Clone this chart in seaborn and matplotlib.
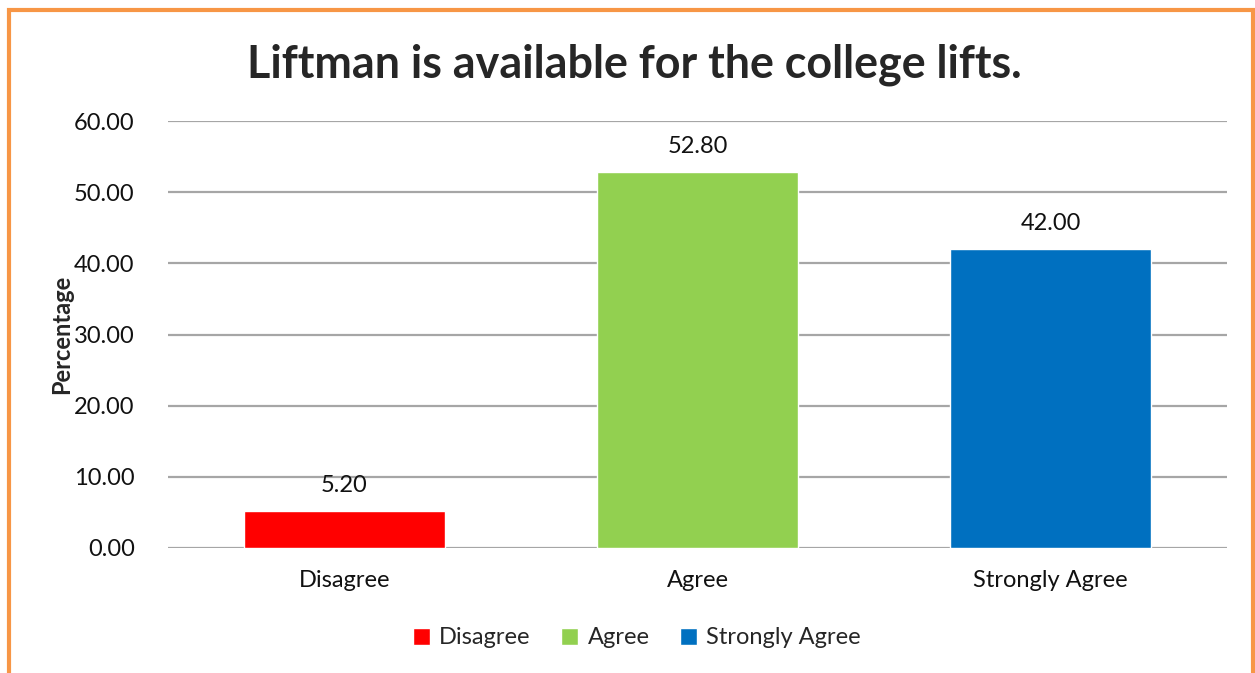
import pandas as pd
import matplotlib.pyplot as plt
import matplotlib.patches as mpatches
import seaborn as sns

# dados
categorias = ['Disagree', 'Agree', 'Strongly Agree']
percentuais = [5.20, 52.80, 42.00]
cores = ['#FF0000', '#92D050', '#0070C0']
ticks_y = [0, 10, 20, 30, 40, 50, 60]

df = pd.DataFrame({'Resposta': categorias, 'Percentual': percentuais})

sns.set_theme(style="white")
plt.rcParams['font.family'] = ['Lato', 'DejaVu Sans']

W, H = 1255, 673
fig = plt.figure(figsize=(W / 100, H / 100), dpi=100)
ax = fig.add_axes([168 / W, 1 - 548 / H, (1227 - 168) / W, (548 - 121) / H])

sns.barplot(data=df, x='Resposta', y='Percentual', hue='Resposta',
            palette=cores, width=0.572, saturation=1, ax=ax, legend=True)

fs = 17
ax.set_xlim(-0.5, 2.5)
ax.set_ylim(0, 60)
ax.set_yticks(ticks_y)
ax.set_yticklabels([f'{v:.2f}' for v in ticks_y], fontsize=fs, color='#111111')
ax.tick_params(axis='x', labelsize=fs, colors='#111111', pad=16, length=0)
ax.tick_params(axis='y', pad=24, length=0)
ax.yaxis.grid(True, color='#A6A6A6', linewidth=1.6)
ax.set_axisbelow(True)
for s in ax.spines.values():
    s.set_visible(False)

ax.set_xlabel('')
ax.set_ylabel('Percentage', fontsize=17, fontweight='bold')
ax.yaxis.set_label_coords((73 - 168) / (1227 - 168), 0.5)

for c in ax.containers:
    ax.bar_label(c, fmt='%.2f', padding=11, fontsize=fs, color='#111111')

ax.legend(loc='center', bbox_to_anchor=((637 - 168) / (1227 - 168), 1 - (638 - 121) / (548 - 121)),
          ncol=3, frameon=False, fontsize=fs, handlelength=0.7, handleheight=0.7,
          handletextpad=0.4, columnspacing=1.3)

fig.text(634 / W, 1 - 65 / H, 'Liftman is available for the college lifts.',
         ha='center', va='center', fontsize=32.3, fontweight='bold')

# moldura laranja
fig.patches.append(mpatches.Rectangle((9 / W, -0.05), (1253 - 9) / W, 1.05 - 10 / H,
                                      transform=fig.transFigure, fill=False,
                                      edgecolor='#F79646', linewidth=3))

plt.savefig('out.png', dpi=100)
plt.close()
